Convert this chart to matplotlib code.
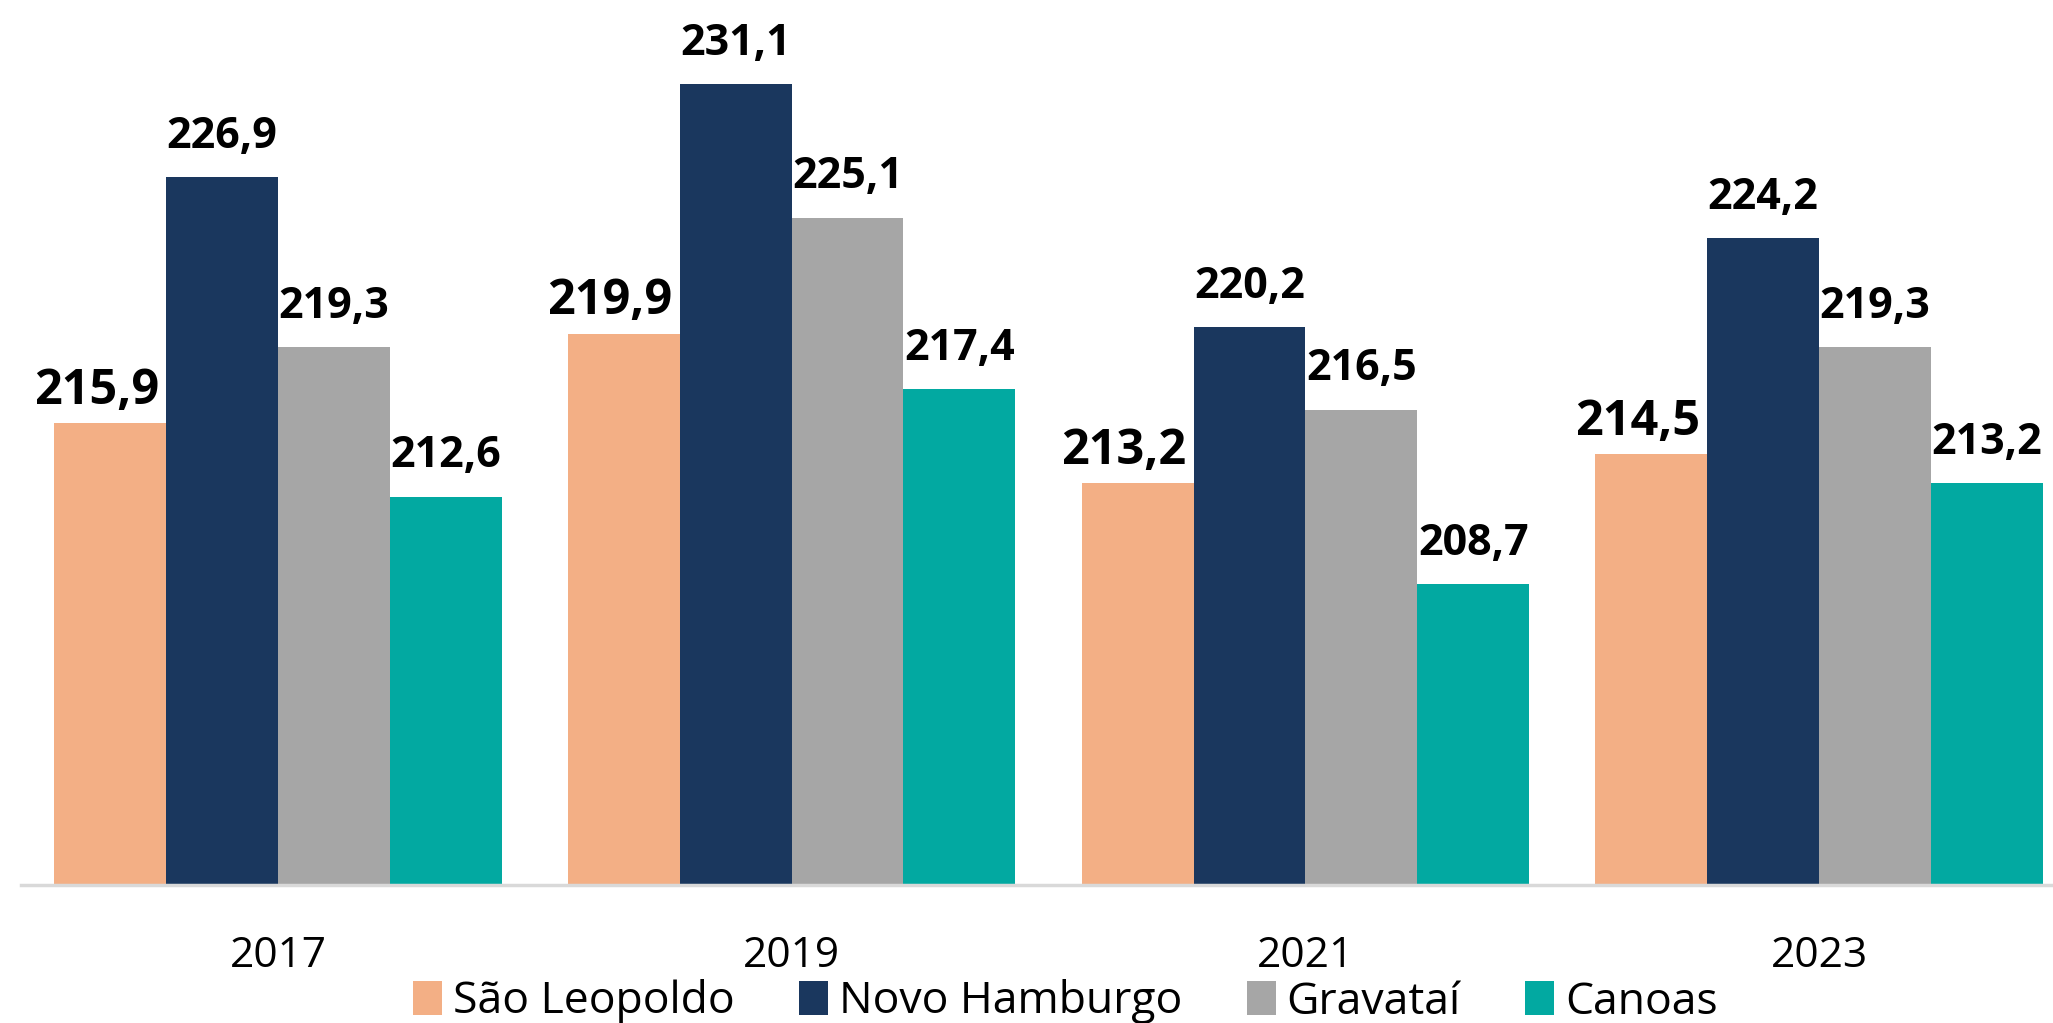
import matplotlib
matplotlib.use("Agg")
import matplotlib.pyplot as plt
import numpy as np
from matplotlib.patches import Patch

years = ["2017", "2019", "2021", "2023"]
series_names = ["São Leopoldo", "Novo Hamburgo", "Gravataí", "Canoas"]
sao_leopoldo = [215.9, 219.9, 213.2, 214.5]
novo_hamburgo = [226.9, 231.1, 220.2, 224.2]
gravatai = [219.3, 225.1, 216.5, 219.3]
canoas = [212.6, 217.4, 208.7, 213.2]
colors = ["#F3AF85", "#1A375E", "#A6A6A6", "#02A9A1"]

series = [sao_leopoldo, novo_hamburgo, gravatai, canoas]

plt.rcParams['font.family'] = ['Open Sans', 'DejaVu Sans']

W, H = 2053, 1023
fig = plt.figure(figsize=(W / 100, H / 100), dpi=100)
ax_left = 21 / W
ax_right = 2076 / W
ax_bottom = (H - 885) / H
ax = fig.add_axes([ax_left, ax_bottom, ax_right - ax_left, 1 - ax_bottom])

x = np.arange(len(years))
group_w = 0.871
bw = group_w / 4
for i, (vals, c) in enumerate(zip(series, colors)):
    pos = x - group_w / 2 + bw * (i + 0.5)
    ax.bar(pos, vals, width=bw, color=c, bottom=0, zorder=2)
    for p, v in zip(pos, vals):
        lbl = f"{v:.1f}".replace(".", ",")
        if i == 0:
            ax.annotate(lbl, (p, v), xytext=(-10, 14), textcoords="offset points",
                        ha="center", va="baseline", fontsize=35, fontweight="bold")
        else:
            ax.annotate(lbl, (p, v), xytext=(0, 21), textcoords="offset points",
                        ha="center", va="baseline", fontsize=31, fontweight="bold")

ax.set_xlim(-0.5, 3.5)
ax.set_ylim(195.2, 234.85)
ax.set_xticks(x)
ax.set_xticklabels(years, fontsize=30.5)
ax.tick_params(axis="x", length=0, pad=36)
ax.set_yticks([])
for s in ["top", "right", "left"]:
    ax.spines[s].set_visible(False)
ax.spines["bottom"].set_color("#D9D9D9")
ax.spines["bottom"].set_linewidth(2.5)
ax.spines["bottom"].set_zorder(3)

handles = [Patch(facecolor=c, label=n) for c, n in zip(colors, series_names)]
fig.legend(handles=handles, loc="center", bbox_to_anchor=(0.519, 21 / H), ncol=4,
           frameon=False, fontsize=32, handlelength=0.65, handleheight=0.8,
           handletextpad=0.25, columnspacing=1.45, borderpad=0, borderaxespad=0)

fig.savefig("out.png", dpi=100)
